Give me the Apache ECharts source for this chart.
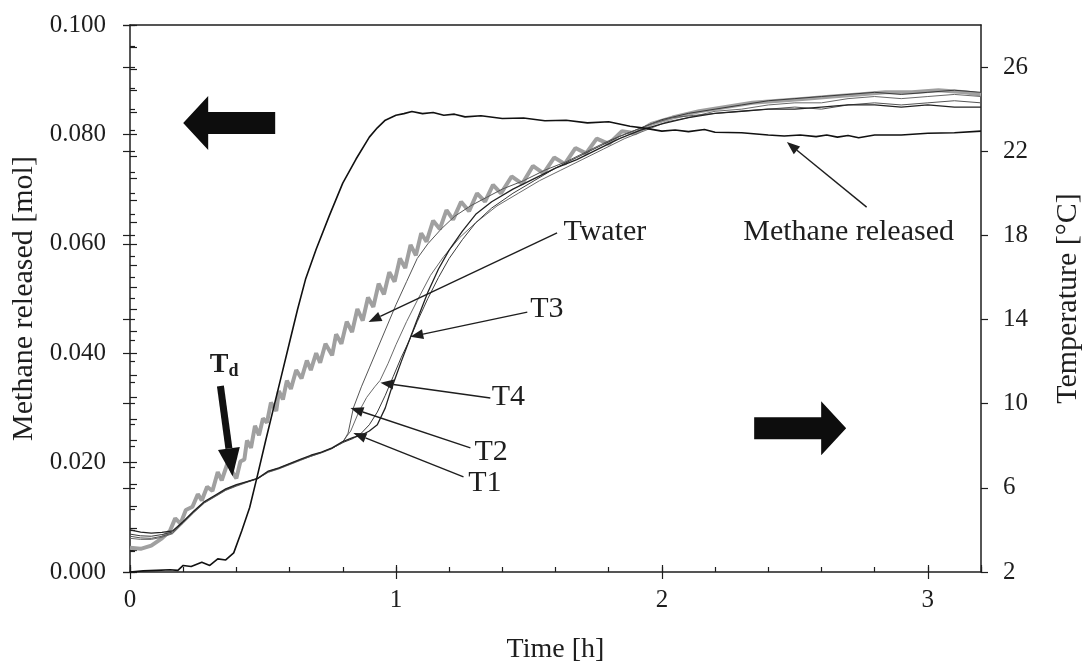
<!DOCTYPE html>
<html><head><meta charset="utf-8">
<script src="https://cdn.jsdelivr.net/npm/echarts@6/dist/echarts.min.js"></script>
<style>html,body{margin:0;padding:0;background:#fff}#c{width:1088px;height:663px}</style>
</head><body><div id="c"></div>
<script>
// ---- data: time [h] vs methane released [mol] (left axis)
const methane = [
[0.00,0.0000],[0.05,0.0002],[0.10,0.0003],[0.15,0.0004],[0.18,0.0003],[0.20,0.0012],[0.23,0.0010],
[0.27,0.0018],[0.30,0.0012],[0.33,0.0024],[0.36,0.0022],[0.39,0.0035],[0.42,0.0075],[0.45,0.0118],
[0.48,0.0178],[0.51,0.0240],[0.54,0.0300],[0.57,0.0360],[0.60,0.0420],[0.63,0.0480],[0.66,0.0535],
[0.70,0.0590],[0.75,0.0652],[0.80,0.0711],[0.85,0.0755],[0.90,0.0795],[0.93,0.0812],[0.96,0.0826],
[1.00,0.0835],[1.03,0.0838],[1.06,0.0842],[1.10,0.0838],[1.14,0.0840],[1.18,0.0835],[1.22,0.0837],
[1.26,0.0832],[1.32,0.0834],[1.40,0.0829],[1.48,0.0830],[1.56,0.0825],[1.64,0.0826],[1.72,0.0821],
[1.80,0.0823],[1.88,0.0815],[1.94,0.0811],[2.00,0.0806],[2.05,0.0808],[2.10,0.0805],[2.16,0.0809],
[2.20,0.0804],[2.30,0.0803],[2.40,0.0799],[2.46,0.0797],[2.52,0.0799],[2.58,0.0796],[2.62,0.0799],
[2.66,0.0795],[2.70,0.0798],[2.74,0.0794],[2.80,0.0799],[2.90,0.0799],[3.00,0.0802],[3.10,0.0803],[3.20,0.0806]
];
// ---- data: time [h] vs temperature [°C] (right axis)
const tWater = [
[0.00,3.15],[0.04,3.10],[0.08,3.25],[0.12,3.60],[0.150,3.95],[0.170,4.55],[0.190,4.30],[0.210,4.95],
[0.235,5.10],[0.255,5.70],[0.270,5.40],[0.290,6.05],[0.310,5.85],[0.330,6.75],[0.345,6.35],[0.370,7.30],
[0.385,6.75],[0.400,6.45],[0.415,7.25],[0.430,7.35],[0.440,8.25],[0.455,7.90],[0.470,8.95],[0.485,8.50],
[0.500,9.30],[0.515,9.10],[0.530,10.05],[0.550,9.65],[0.560,10.60],[0.575,10.20],[0.590,11.10],[0.605,10.70],
[0.625,11.60],[0.645,11.20],[0.665,12.05],[0.680,11.60],[0.700,12.40],[0.715,11.95],[0.735,12.85],[0.760,12.30],
[0.775,13.30],[0.795,12.85],[0.815,13.90],[0.835,13.40],[0.855,14.50],[0.875,13.95],[0.895,15.05],[0.915,14.60],
[0.935,15.70],[0.955,15.20],[0.975,16.25],[0.995,15.80],[1.015,16.90],[1.035,16.45],[1.055,17.55],[1.075,17.05],
[1.095,18.10],[1.115,17.70],[1.140,18.70],[1.165,18.30],[1.190,19.20],[1.215,18.75],[1.245,19.60],[1.275,19.15],
[1.305,20.00],[1.335,19.60],[1.365,20.40],[1.395,20.00],[1.435,20.80],[1.475,20.45],[1.515,21.30],[1.555,20.95],
[1.595,21.70],[1.635,21.40],[1.675,22.15],[1.715,21.90],[1.755,22.60],[1.800,22.35],[1.850,22.95],[1.900,22.85],
[1.96,23.30],[2.04,23.60],[2.14,23.90],[2.24,24.10],[2.34,24.30],[2.44,24.40],[2.54,24.50],[2.64,24.60],
[2.74,24.70],[2.84,24.80],[2.94,24.80],[3.04,24.90],[3.14,24.80],[3.20,24.70]
];
const t1 = [
[0.00,4.00],[0.04,3.90],[0.08,3.85],[0.12,3.88],[0.16,3.95],[0.20,4.40],[0.24,4.90],[0.28,5.35],
[0.32,5.65],[0.36,5.95],[0.40,6.15],[0.44,6.30],[0.48,6.45],[0.52,6.80],[0.56,6.95],[0.60,7.15],
[0.64,7.35],[0.68,7.55],[0.72,7.70],[0.76,7.90],[0.80,8.20],[0.84,8.40],[0.87,8.50],[0.90,8.70],
[0.93,9.00],[0.96,9.80],[0.98,10.60],[1.00,11.30],[1.02,12.00],[1.05,13.00],[1.08,14.00],[1.12,15.30],
[1.16,16.40],[1.20,17.30],[1.25,18.20],[1.30,19.00],[1.36,19.60],[1.44,20.20],[1.52,20.70],[1.60,21.20],
[1.68,21.60],[1.76,22.10],[1.84,22.60],[1.92,23.00],[2.00,23.30],[2.10,23.60],[2.20,23.80],[2.30,23.90],
[2.40,24.00],[2.50,24.00],[2.60,24.10],[2.70,24.20],[2.80,24.20],[2.90,24.10],[3.00,24.20],[3.10,24.10],[3.20,24.10]
];
const t2 = [
[0.00,3.70],[0.04,3.62],[0.08,3.60],[0.12,3.70],[0.16,3.85],[0.20,4.35],[0.24,4.85],[0.28,5.30],
[0.32,5.60],[0.36,5.90],[0.40,6.10],[0.44,6.28],[0.48,6.45],[0.52,6.75],[0.56,6.92],[0.60,7.12],
[0.64,7.32],[0.68,7.50],[0.72,7.68],[0.76,7.88],[0.80,8.15],[0.82,8.60],[0.84,9.80],[0.87,10.80],
[0.90,11.70],[0.93,12.60],[0.96,13.50],[1.00,14.70],[1.04,15.80],[1.08,16.90],[1.12,17.60],[1.17,18.30],
[1.22,18.90],[1.28,19.40],[1.34,19.80],[1.40,20.20],[1.48,20.60],[1.56,21.10],[1.64,21.50],[1.72,22.00],
[1.80,22.50],[1.88,22.90],[1.96,23.30],[2.04,23.60],[2.12,23.70],[2.20,23.80],[2.30,23.90],[2.40,24.00],
[2.50,24.10],[2.60,24.00],[2.70,24.20],[2.80,24.30],[2.90,24.20],[3.00,24.30],[3.10,24.40],[3.20,24.30]
];
const t3 = [
[0.00,3.80],[0.04,3.72],[0.08,3.70],[0.12,3.78],[0.16,3.90],[0.20,4.38],[0.24,4.88],[0.28,5.32],
[0.32,5.62],[0.36,5.92],[0.40,6.12],[0.44,6.29],[0.48,6.44],[0.52,6.78],[0.56,6.94],[0.60,7.14],
[0.64,7.34],[0.68,7.52],[0.72,7.69],[0.76,7.89],[0.80,8.15],[0.84,8.35],[0.87,8.60],[0.90,9.00],
[0.93,9.60],[0.96,10.40],[0.99,11.30],[1.02,12.20],[1.05,13.00],[1.08,13.90],[1.12,15.00],[1.16,16.00],
[1.20,16.90],[1.25,17.80],[1.30,18.60],[1.36,19.30],[1.44,20.00],[1.52,20.60],[1.60,21.20],[1.68,21.70],
[1.76,22.20],[1.84,22.70],[1.92,23.10],[2.00,23.50],[2.10,23.80],[2.20,24.00],[2.30,24.20],[2.40,24.40],
[2.50,24.50],[2.60,24.60],[2.70,24.70],[2.80,24.80],[2.90,24.70],[3.00,24.80],[3.10,24.90],[3.20,24.80]
];
const t4 = [
[0.00,3.60],[0.04,3.55],[0.08,3.55],[0.12,3.65],[0.16,3.82],[0.20,4.32],[0.24,4.82],[0.28,5.28],
[0.32,5.58],[0.36,5.88],[0.40,6.08],[0.44,6.26],[0.48,6.43],[0.52,6.74],[0.56,6.90],[0.60,7.10],
[0.64,7.30],[0.68,7.50],[0.72,7.66],[0.76,7.86],[0.80,8.20],[0.83,8.70],[0.86,9.60],[0.89,10.30],
[0.92,10.80],[0.94,11.10],[0.97,11.90],[1.00,12.80],[1.04,13.90],[1.08,14.90],[1.13,16.10],[1.18,17.00],
[1.24,17.90],[1.30,18.60],[1.38,19.40],[1.46,20.00],[1.54,20.60],[1.62,21.10],[1.70,21.60],[1.78,22.10],
[1.86,22.60],[1.94,23.00],[2.02,23.40],[2.10,23.60],[2.20,23.90],[2.30,24.00],[2.40,24.20],[2.50,24.30],
[2.60,24.30],[2.70,24.50],[2.80,24.60],[2.90,24.50],[3.00,24.60],[3.10,24.70],[3.20,24.60]
];
// ---- annotation labels (anchored in time / mol coordinates)
const labels = [
  {text:'Twater', at:[1.63,0.0622], from:[1.606,0.0620], to:[0.897,0.0457]},
  {text:'T3', at:[1.505,0.0481], from:[1.494,0.0475], to:[1.054,0.0430]},
  {text:'T4', at:[1.36,0.0320], from:[1.355,0.0318], to:[0.942,0.0346]},
  {text:'T2', at:[1.295,0.0219], from:[1.280,0.0227], to:[0.829,0.0300]},
  {text:'T1', at:[1.272,0.0163], from:[1.254,0.0174], to:[0.840,0.0254]},
  {text:'Methane released', at:[2.306,0.0622], from:[2.77,0.0667], to:[2.47,0.0786]}
];
const tdLabel = {at:[0.30,0.0378], from:[0.34,0.0340], to:[0.386,0.0175]};
const bigArrows = [{tip:[0.20,0.0821], dir:-1},{tip:[2.693,0.0263], dir:1}];

const FONT = '"Liberation Serif","Times New Roman",serif';
const INK = '#1e1e1e';
const chart = echarts.init(document.getElementById('c'), null, {renderer:'canvas'});
const noLabel = {show:false};
const noSplit = {show:false};
const noLine = {show:false};
function xa(extra){return Object.assign({type:'value',min:0,max:3.2,splitLine:noSplit,axisLabel:noLabel,axisLine:noLine,axisTick:{show:false}},extra);}
function ya(extra){return Object.assign({type:'value',splitLine:noSplit,axisLabel:noLabel,axisLine:noLine,axisTick:{show:false}},extra);}
const tickStyle = {color:INK,width:1.2};
chart.setOption({
  animation:false,
  backgroundColor:'#ffffff',
  grid:{left:130,right:107,top:25,bottom:91,containLabel:false,outerBoundsMode:'none'},
  xAxis:[
    xa({position:'bottom',interval:1,axisLine:{show:true,onZero:false,lineStyle:{color:INK,width:1.5}},
        axisTick:{show:true,length:7,lineStyle:tickStyle},
        axisLabel:{show:true,showMaxLabel:false,color:INK,fontFamily:FONT,fontSize:25,margin:16},
        name:'Time [h]',nameLocation:'middle',nameGap:64,nameTextStyle:{color:INK,fontFamily:FONT,fontSize:28}}),
    xa({position:'bottom',interval:0.2,axisTick:{show:true,inside:true,length:5,lineStyle:tickStyle}}),
    xa({position:'bottom',interval:1,axisTick:{show:true,inside:true,length:7,lineStyle:tickStyle}}),
    xa({position:'top',axisLine:{show:true,onZero:false,lineStyle:{color:INK,width:1.5}}})
  ],
  yAxis:[
    ya({position:'left',min:0,max:0.1,interval:0.02,axisLine:{show:true,onZero:false,lineStyle:{color:INK,width:1.5}},
        axisTick:{show:true,length:7,lineStyle:tickStyle},
        axisLabel:{show:true,color:INK,fontFamily:FONT,fontSize:25,margin:24,formatter:v=>v.toFixed(3)},
        name:'Methane released [mol]',nameLocation:'middle',nameGap:88,nameTextStyle:{color:INK,fontFamily:FONT,fontSize:30}}),
    ya({position:'right',min:2,max:28,interval:4,axisLine:{show:true,onZero:false,lineStyle:{color:INK,width:1.5}},
        axisTick:{show:true,length:7,lineStyle:tickStyle},
        axisLabel:{show:true,showMaxLabel:false,color:INK,fontFamily:FONT,fontSize:25,margin:22},
        name:'Temperature [°C]',nameLocation:'middle',nameGap:72,nameTextStyle:{color:INK,fontFamily:FONT,fontSize:30}}),
    ya({position:'left',min:0,max:0.1,interval:0.004,axisTick:{show:true,inside:true,length:7,lineStyle:tickStyle}}),
    ya({position:'right',min:2,max:28,interval:1,axisTick:{show:true,length:5,lineStyle:tickStyle}}),
    ya({position:'right',min:2,max:28,interval:4,axisTick:{show:true,inside:true,length:7,lineStyle:tickStyle}})
  ],
  series:[
    {type:'line',name:'Twater',data:tWater,xAxisIndex:0,yAxisIndex:1,showSymbol:false,lineStyle:{color:'#a0a0a0',width:4},z:2},
    {type:'line',name:'T4',data:t4,xAxisIndex:0,yAxisIndex:1,showSymbol:false,lineStyle:{color:'#6a6a6a',width:1},z:3},
    {type:'line',name:'T3',data:t3,xAxisIndex:0,yAxisIndex:1,showSymbol:false,lineStyle:{color:'#3a3a3a',width:1},z:3},
    {type:'line',name:'T2',data:t2,xAxisIndex:0,yAxisIndex:1,showSymbol:false,lineStyle:{color:'#555555',width:1},z:3},
    {type:'line',name:'T1',data:t1,xAxisIndex:0,yAxisIndex:1,showSymbol:false,lineStyle:{color:'#222222',width:1.3},z:3},
    {type:'line',name:'Methane released',data:methane,xAxisIndex:0,yAxisIndex:0,showSymbol:false,lineStyle:{color:'#111111',width:1.6},z:4}
  ]
});

function P(p){return chart.convertToPixel({xAxisIndex:0,yAxisIndex:0},p);}
function arrowHead(tip, from, len, half){
  const dx=tip[0]-from[0], dy=tip[1]-from[1], L=Math.hypot(dx,dy)||1;
  const ux=dx/L, uy=dy/L, bx=tip[0]-ux*len, by=tip[1]-uy*len;
  return [[tip[0],tip[1]],[bx-uy*half,by+ux*half],[bx+uy*half,by-ux*half]];
}
const g=[];
labels.forEach(a=>{
  const p=P(a.at), f=P(a.from), t=P(a.to);
  const h=arrowHead(t,f,13,5);
  const back=[(h[1][0]+h[2][0])/2,(h[1][1]+h[2][1])/2];
  g.push({type:'line',shape:{x1:f[0],y1:f[1],x2:back[0],y2:back[1]},style:{stroke:INK,lineWidth:1.4},z:10});
  g.push({type:'polygon',shape:{points:h},style:{fill:INK},z:10});
  g.push({type:'text',x:p[0],y:p[1],style:{text:a.text,fill:INK,font:'30px '+FONT,textAlign:'left',textVerticalAlign:'middle'},z:10});
});
// Td marker
(function(){
  const p=P(tdLabel.at), f=P(tdLabel.from), t=P(tdLabel.to);
  const h=arrowHead(t,f,28,11);
  const back=[(h[1][0]+h[2][0])/2,(h[1][1]+h[2][1])/2];
  g.push({type:'line',shape:{x1:f[0],y1:f[1],x2:back[0],y2:back[1]},style:{stroke:'#111',lineWidth:7},z:10});
  g.push({type:'polygon',shape:{points:h},style:{fill:'#111'},z:10});
  g.push({type:'text',x:p[0],y:p[1],style:{text:'{a|T}{b|d}',rich:{a:{fontFamily:FONT,fontSize:28,fontWeight:'bold',fill:INK},b:{fontFamily:FONT,fontSize:18,fontWeight:'bold',fill:INK,padding:[12,0,0,0]}},textAlign:'left',textVerticalAlign:'middle'},z:10});
})();
bigArrows.forEach(b=>{
  const t=P(b.tip), d=b.dir;
  const pts=[[0,0],[-25,-27],[-25,-11],[-92,-11],[-92,11],[-25,11],[-25,27]].map(q=>[t[0]+q[0]*d,t[1]+q[1]]);
  g.push({type:'polygon',shape:{points:pts},style:{fill:'#0d0d0d'},z:10});
});
chart.setOption({graphic:g});
</script></body></html>
